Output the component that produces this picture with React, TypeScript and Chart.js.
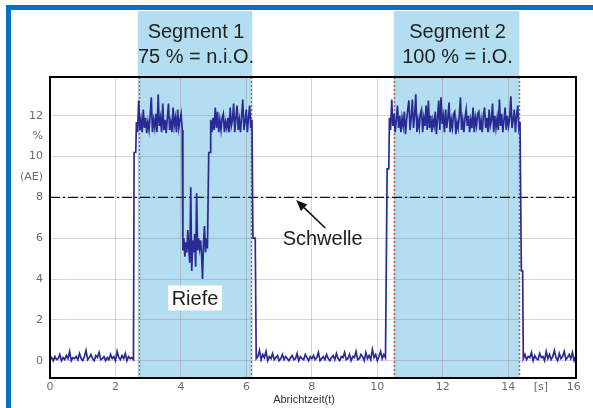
import React, { useEffect, useRef } from 'react';
import { Chart, registerables } from 'chart.js';

Chart.register(...registerables);

// Axis setup
const xMin = 0;
const xMax = 16.07;
const yMin = -0.85;
const yMax = 13.9;
const xTicks = [0, 2, 4, 6, 8, 10, 12, 14, 15, 16];
const xTickLabels = ['0', '2', '4', '6', '8', '10', '12', '14', '[s]', '16'];
const yTicks = [0, 2, 4, 6, 8, 9, 10, 11, 12];
const yTickLabels = ['0', '2', '4', '6', '8', '(AE)', '10', '%', '12'];
const xTitle = 'Abrichtzeit(t)';

// Threshold
const threshold = 8;
const thresholdLabel = 'Schwelle';
const thresholdLabelPos = [8.33, 6.0];
const arrowTail = [8.41, 6.5];
const arrowHead = [7.52, 7.87];

// Groove annotation
const grooveLabel = 'Riefe';
const grooveLabelPos = [4.43, 3.07];

// Segments
const segTitles = ['Segment 1', 'Segment 2'];
const segResults = ['75 % = n.i.O.', '100 % = i.O.'];
const segShadeStart = [2.68, 10.5];
const segShadeEnd = [6.18, 14.34];
const segMarkStart = [2.73, 10.52];
const segMarkEnd = [6.13, 14.32];

// Signal pieces (start time [s], sample step [s], values [%])
const base1 = [0.05, 0.15, 0.0, 0.2, 0.05, 0.1, 0.3, 0.0, 0.15, 0.05, 0.25, 0.1, 0.45, 0.0, 0.15, 0.1, 0.2, 0.05, 0.35, 0.1, 0.0, 0.2, 0.5, 0.05, 0.15, 0.3, 0.1, 0.0, 0.25, 0.15, 0.4, 0.05, 0.1, 0.2, 0.0, 0.15, 0.05, 0.3, 0.1, 0.2, 0.0, 0.45, 0.15, 0.05, 0.25, 0.1, 0.35, 0.0, 0.2, 0.1, 0.15, 0.05];
const rise1 = [10.2, 10.2];
const high1a = [11.7, 11.2, 12.75, 11.3, 11.8, 11.2, 12.3, 11.4, 11.9, 11.15, 11.7, 11.3, 12.0, 12.9, 11.2, 11.8, 11.4, 12.1, 11.2, 13.05, 11.5, 11.9, 11.2, 12.6, 11.3, 11.8, 11.15, 11.9, 12.6, 11.3, 11.7, 11.2, 12.4, 11.5, 11.9, 11.2, 12.3, 11.4, 11.8, 12.1, 11.3];
const low1 = [5.4, 6.0, 5.1, 5.8, 5.3, 6.4, 5.5, 4.8, 8.5, 4.4, 5.9, 5.3, 6.2, 4.6, 8.2, 5.4, 6.0, 5.5, 5.9, 5.2, 4.0, 5.8, 6.6, 5.3, 6.0, 5.5];
const rise2 = [10.2, 10.2];
const high1b = [11.8, 11.2, 11.9, 11.3, 12.4, 11.4, 12.2, 11.2, 11.8, 11.3, 11.9, 12.1, 11.2, 11.7, 11.4, 11.9, 11.2, 12.4, 11.5, 11.8, 12.6, 11.2, 11.9, 12.5, 11.3, 11.8, 11.2, 12.0, 12.8, 11.3, 11.7, 12.3, 11.2, 11.9, 12.5, 11.4, 11.8];
const fall1 = [6.0, 6.0];
const base2 = [0.1, 0.2, 0.5, 0.05, 0.3, 0.15, 0.45, 0.0, 0.2, 0.1, 0.35, 0.05, 0.15, 0.25, 0.0, 0.1, 0.3, 0.05, 0.2, 0.1,
  0.0, 0.15, 0.25, 0.05, 0.1, 0.35, 0.0, 0.2, 0.1, 0.05, 0.3, 0.15, 0.0, 0.2, 0.1, 0.25, 0.05, 0.15, 0.4, 0.0,
  0.1, 0.2, 0.05, 0.3, 0.1, 0.0, 0.15, 0.25, 0.05, 0.35, 0.1, 0.0, 0.2, 0.15, 0.4, 0.05, 0.1, 0.3, 0.0, 0.2,
  0.15, 0.45, 0.05, 0.1, 0.3, 0.2, 0.0, 0.4, 0.1, 0.25, 0.05, 0.55, 0.15, 0.3, 0.0, 0.2, 0.45, 0.1, 0.3, 0.15];
const rise3 = [9.4, 9.4];
const high2 = [11.9, 11.3, 12.8, 11.5, 12.1, 11.2, 11.8, 12.5, 11.4, 12.0, 11.2, 11.9, 11.5, 12.2, 11.1, 11.8, 12.3, 12.75, 11.3, 11.9,
  12.8, 11.4, 12.0, 13.05, 11.2, 11.8, 11.4, 12.1, 12.3, 11.2, 11.9, 11.5, 12.5, 11.3, 12.75, 11.4, 12.0, 11.2, 11.8, 11.5,
  12.2, 11.1, 11.9, 12.75, 11.3, 12.9, 11.6, 12.0, 11.2, 12.3, 11.4, 11.9, 12.65, 11.2, 11.8, 11.4, 12.1, 12.2, 11.1, 11.7,
  11.4, 12.0, 12.9, 11.3, 11.8, 11.2, 11.9, 12.3, 11.5, 12.0, 11.2, 11.8, 11.4, 12.4, 11.2, 11.9, 11.5, 12.1, 12.2, 11.3,
  11.8, 11.2, 12.0, 12.4, 11.4, 11.9, 11.2, 12.3, 11.5, 11.8, 12.6, 11.2, 12.0, 11.4, 11.9, 11.3, 12.8, 11.5, 12.1, 11.2,
  11.8, 12.4, 11.3, 12.0, 11.5, 11.9, 12.95, 11.4, 11.8, 12.3, 11.2, 12.0, 12.5, 11.4, 11.7];
const fall2 = [4.4, 4.4];
const base3 = [0.1, 0.3, 0.05, 0.2, 0.15, 0.4, 0.0, 0.25, 0.1, 0.05, 0.35, 0.15, 0.2, 0.0, 0.45, 0.1, 0.3, 0.05, 0.2, 0.5, 0.15, 0.0, 0.35, 0.1, 0.2, 0.45, 0.05, 0.15, 0.3, 0.1, 0.4, 0.0, 0.2];

const pieceStarts = [0, 2.57, 2.64, 4.06, 4.85, 4.91, 6.2, 6.3, 10.3, 10.37, 14.4, 14.46];
const pieceSteps = [0.05, 0.05, 0.035, 0.03, 0.04, 0.035, 0.07, 0.05, 0.05, 0.035, 0.04, 0.05];
const pieceValues = [base1, rise1, high1a, low1, rise2, high1b, fall1, base2, rise3, high2, fall2, base3];

const FONT = '"Liberation Sans", Arial, sans-serif';

const overlayPlugin = {
  id: 'overlay',
  beforeDraw(chart: any) {
    const { ctx, chartArea, scales } = chart;
    const xs = scales.x;
    ctx.save();
    // blue frame
    ctx.fillStyle = '#0b70c4';
    ctx.fillRect(6, 5, 593 - 6, 5);
    ctx.fillRect(6, 5, 5, 408 - 5);
    // segment shading
    ctx.fillStyle = '#b3ddf1';
    for (let i = 0; i < segTitles.length; i++) {
      const x1 = xs.getPixelForValue(segShadeStart[i]);
      const x2 = xs.getPixelForValue(segShadeEnd[i]);
      ctx.fillRect(x1, 11, x2 - x1, chartArea.bottom - 11);
    }
    // segment titles
    ctx.fillStyle = '#1e1e1e';
    ctx.font = '20px ' + FONT;
    ctx.textAlign = 'center';
    ctx.textBaseline = 'middle';
    for (let i = 0; i < segTitles.length; i++) {
      const cx = xs.getPixelForValue((segShadeStart[i] + segShadeEnd[i]) / 2);
      ctx.fillText(segTitles[i], cx + 1, 32);
      ctx.fillText(segResults[i], cx + 1, 57);
    }
    ctx.restore();
  },
  beforeDatasetsDraw(chart: any) {
    const { ctx, chartArea, scales } = chart;
    const xs = scales.x;
    ctx.save();
    ctx.strokeStyle = 'rgb(192,92,72)';
    ctx.lineWidth = 1.5;
    ctx.setLineDash([2, 2]);
    const marks = [...segMarkStart, ...segMarkEnd];
    for (const m of marks) {
      const px = Math.round(xs.getPixelForValue(m)) + 0.5;
      ctx.beginPath();
      ctx.moveTo(px, chartArea.top);
      ctx.lineTo(px, chartArea.bottom);
      ctx.stroke();
    }
    ctx.restore();
  },
  afterDatasetsDraw(chart: any) {
    const { ctx, chartArea, scales } = chart;
    const xs = scales.x;
    const ys = scales.y;
    ctx.save();
    // plot border
    ctx.strokeStyle = '#000';
    ctx.lineWidth = 2;
    ctx.strokeRect(chartArea.left, chartArea.top, chartArea.right - chartArea.left, chartArea.bottom - chartArea.top);

    // groove label with white box
    ctx.font = '20px ' + FONT;
    ctx.textAlign = 'center';
    ctx.textBaseline = 'middle';
    const gx = xs.getPixelForValue(grooveLabelPos[0]);
    const gy = ys.getPixelForValue(grooveLabelPos[1]);
    const gw = ctx.measureText(grooveLabel).width + 7;
    ctx.fillStyle = '#fff';
    ctx.fillRect(gx - gw / 2, gy - 12.5, gw, 25);
    ctx.fillStyle = '#1e1e1e';
    ctx.fillText(grooveLabel, gx, gy + 1);

    // threshold label
    const tx = xs.getPixelForValue(thresholdLabelPos[0]);
    const ty = ys.getPixelForValue(thresholdLabelPos[1]);
    ctx.fillText(thresholdLabel, tx, ty + 1);

    // arrow
    const ax1 = xs.getPixelForValue(arrowTail[0]);
    const ay1 = ys.getPixelForValue(arrowTail[1]);
    const ax2 = xs.getPixelForValue(arrowHead[0]);
    const ay2 = ys.getPixelForValue(arrowHead[1]);
    const ang = Math.atan2(ay2 - ay1, ax2 - ax1);
    const hl = 11;
    const hw = 4.5;
    const bx = ax2 - hl * Math.cos(ang);
    const by = ay2 - hl * Math.sin(ang);
    ctx.strokeStyle = '#111';
    ctx.lineWidth = 1.6;
    ctx.beginPath();
    ctx.moveTo(ax1, ay1);
    ctx.lineTo(bx, by);
    ctx.stroke();
    ctx.fillStyle = '#111';
    ctx.beginPath();
    ctx.moveTo(ax2, ay2);
    ctx.lineTo(bx + hw * Math.sin(ang), by - hw * Math.cos(ang));
    ctx.lineTo(bx - hw * Math.sin(ang), by + hw * Math.cos(ang));
    ctx.closePath();
    ctx.fill();

    // x-axis title
    ctx.font = '11px ' + FONT;
    ctx.fillStyle = '#333';
    ctx.fillText(xTitle, 304, 400);
    ctx.restore();
  },
};

export default function App() {
  const ref = useRef<HTMLCanvasElement | null>(null);
  useEffect(() => {
    if (!ref.current) return;
    const points: { x: number; y: number }[] = [];
    pieceValues.forEach((vals, p) => {
      vals.forEach((v, i) => {
        points.push({ x: +(pieceStarts[p] + i * pieceSteps[p]).toFixed(3), y: v });
      });
    });
    const chart = new Chart(ref.current, {
      type: 'line',
      data: {
        datasets: [
          {
            data: points,
            borderColor: '#2a2a94',
            borderWidth: 1.7,
            pointRadius: 0,
            tension: 0,
            fill: false,
            order: 1,
          },
          {
            data: [
              { x: xMin, y: threshold },
              { x: xMax, y: threshold },
            ],
            borderColor: '#111',
            borderWidth: 1.3,
            borderDash: [10, 3, 2, 3],
            pointRadius: 0,
            fill: false,
            order: 2,
          },
        ],
      },
      options: {
        responsive: false,
        animation: false,
        events: [],
        layout: { padding: { top: 77, right: 17, left: 0, bottom: 0 } },
        plugins: { legend: { display: false }, tooltip: { enabled: false }, title: { display: false } },
        scales: {
          x: {
            type: 'linear',
            min: xMin,
            max: xMax,
            afterBuildTicks: (s: any) => {
              s.ticks = xTicks.map((v) => ({ value: v }));
            },
            afterFit: (s: any) => {
              s.height = 30;
            },
            ticks: {
              autoSkip: false,
              maxRotation: 0,
              padding: 3,
              color: '#6a6a6a',
              font: { family: 'DejaVu Sans', size: 11 },
              callback: (v: any) => {
                const i = xTicks.indexOf(Number(v));
                return i >= 0 ? xTickLabels[i] : '';
              },
            },
            grid: {
              drawTicks: false,
              color: (c: any) => {
                const v = c.tick ? c.tick.value : 0;
                return v === 0 || v === 15 || v === 16 ? 'rgba(0,0,0,0)' : 'rgba(150,115,115,0.32)';
              },
              lineWidth: 1,
            },
            border: { display: false },
          },
          y: {
            type: 'linear',
            min: yMin,
            max: yMax,
            afterBuildTicks: (s: any) => {
              s.ticks = yTicks.map((v) => ({ value: v }));
            },
            afterFit: (s: any) => {
              s.width = 50;
            },
            ticks: {
              autoSkip: false,
              padding: 7,
              color: '#6a6a6a',
              font: { family: 'DejaVu Sans', size: 11 },
              callback: (v: any) => {
                const i = yTicks.indexOf(Number(v));
                return i >= 0 ? yTickLabels[i] : '';
              },
            },
            grid: {
              drawTicks: false,
              color: (c: any) => {
                const v = c.tick ? c.tick.value : 0;
                return v === 9 || v === 11 ? 'rgba(0,0,0,0)' : 'rgba(150,115,115,0.32)';
              },
              lineWidth: 1,
            },
            border: { display: false },
          },
        },
      },
      plugins: [overlayPlugin],
    });
    return () => chart.destroy();
  }, []);
  return (
    <div style={{ position: 'absolute', left: 0, top: 0, width: 593, height: 408, background: '#fff' }}>
      <canvas ref={ref} width={593} height={408} style={{ display: 'block' }} />
    </div>
  );
}
